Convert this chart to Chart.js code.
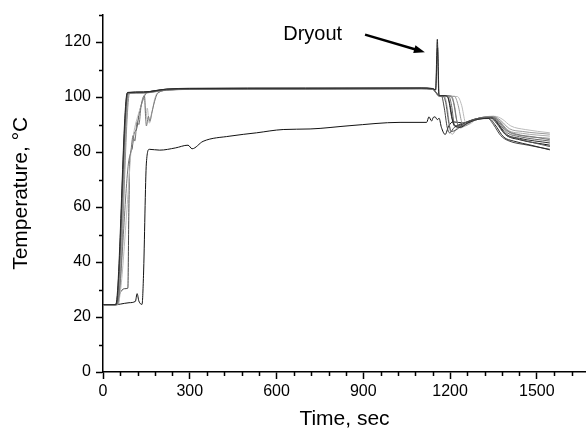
<!doctype html>
<html lang="en">
<head>
<meta charset="utf-8">
<title>Temperature vs time</title>
<script src="https://cdn.jsdelivr.net/npm/chart.js"></script>
<style>
  html, body { margin: 0; padding: 0; background: #fff; }
  #wrap { width: 586px; height: 434px; position: relative; }
</style>
</head>
<body>
<div id="wrap"><canvas id="chart"></canvas></div>
<script>
// ---- data: [time sec, temperature C] ----
const tc01 = [[0,24.5],[44,24.5],[84,101.6],[140,101.8],[220,102.9],[300,103.1],[700,103.2],[1100,103.3],[1140,103.1],[1150,102.6],[1156,121],[1161,101],[1166,100.5],[1185,100.5],[1195,99],[1205,93],[1215,89.5],[1235,89],[1260,90.5],[1300,92],[1335,92.2],[1355,90],[1385,85.5],[1420,84],[1480,82.5],[1545,80.8]]
const tc02 = [[0,24.5],[46,24.5],[86,101.5],[140,101.6],[220,102.7],[300,102.9],[700,103],[1100,103.1],[1140,102.9],[1152,101.6],[1162,100.5],[1175,100.4],[1185,98],[1195,91],[1205,87.5],[1220,88],[1250,90.5],[1300,92.3],[1340,92.5],[1360,90.5],[1390,86.5],[1430,85],[1545,82]]
const tc03 = [[0,24.5],[48,24.5],[88,76],[96,80],[104,86],[110,84],[118,91],[124,90],[132,97],[143,100.5],[150,89.5],[157,93],[162,91.2],[168,94],[182,99.7],[190,101.5],[230,102.6],[300,102.9],[700,103],[1100,103.1],[1140,102.9],[1152,101.5],[1162,100.4],[1200,100.4],[1212,98],[1222,92],[1232,89],[1260,90.5],[1310,92.6],[1345,92.8],[1365,91.5],[1395,88],[1430,86.5],[1490,85.5],[1545,84.5]]
const tc04 = [[0,24.5],[50,24.5],[90,101.4],[140,101.5],[220,102.5],[300,102.8],[700,102.9],[1100,103],[1140,102.8],[1152,101.4],[1162,100.3],[1215,100.3],[1228,97],[1240,91],[1252,89.5],[1280,91.5],[1320,92.8],[1350,93],[1375,91.5],[1405,88.5],[1450,87.5],[1545,86.5]]
const tc05 = [[0,24.5],[50,24.5],[90,70],[95,78],[102,84],[110,89],[120,93],[135,98],[143,100.8],[148,92],[153,96],[160,90.5],[168,93.5],[178,99],[188,101.5],[230,102.5],[300,102.8],[700,102.9],[1100,103],[1140,102.8],[1152,101.4],[1162,100.2],[1225,100.2],[1240,97],[1252,91],[1262,90],[1290,91.8],[1330,92.8],[1355,93],[1380,92],[1410,89.5],[1460,88.2],[1545,87]]
const tc06 = [[0,24.5],[45,24.5],[85,101.7],[140,101.9],[220,102.9],[300,103.2],[700,103.3],[1100,103.3],[1140,103.1],[1150,102.6],[1157,118],[1162,100.8],[1166,100.5],[1190,100.5],[1200,97],[1210,91],[1222,89.5],[1260,91],[1310,92.5],[1345,92.6],[1365,90.5],[1395,86.5],[1440,85],[1545,83.3]]
const tc07 = [[0,24.5],[42,24.5],[50,26],[58,28.5],[66,29.8],[74,30.3],[86,30.5],[89,55],[92,76],[100,81],[108,87],[115,88],[125,94],[135,98],[143,100.3],[150,101.5],[220,102.6],[300,102.9],[700,103],[1100,103.1],[1140,102.9],[1152,101.5],[1162,100.5],[1170,100.5],[1180,96],[1190,89],[1198,87],[1215,89],[1260,91],[1300,92.2],[1330,92.3],[1350,90],[1375,86],[1400,84.2],[1470,82.5],[1545,81]]
const tc08 = [[0,24.5],[52,24.5],[92,101.4],[140,101.5],[220,102.6],[300,102.9],[700,103],[1100,103.1],[1140,102.9],[1152,101.5],[1162,100.4],[1205,100.4],[1215,97],[1225,90.5],[1235,88.8],[1270,91],[1320,92.7],[1350,92.8],[1372,91],[1400,87.5],[1445,86],[1545,85]]
const tc09 = [[0,24.5],[48,24.5],[87,101.5],[140,101.6],[220,102.7],[300,103],[700,103.1],[1100,103.2],[1140,103],[1152,101.5],[1162,100.4],[1180,100.4],[1192,95],[1200,88],[1208,86.5],[1222,88.5],[1265,91],[1315,92.6],[1348,92.8],[1370,91.5],[1400,88],[1450,86.8],[1545,85.8]]
const tc10 = [[0,24.5],[47,24.5],[88,101.5],[140,101.7],[220,102.8],[300,103],[700,103.1],[1100,103.2],[1140,103],[1152,101.6],[1162,100.5],[1195,100.5],[1205,97],[1215,90],[1228,89.2],[1270,91.2],[1320,92.6],[1347,92.7],[1367,90.8],[1398,87],[1440,85.6],[1545,84]]
const tc11 = [[0,24.5],[42,24.5],[60,24.7],[90,25.2],[112,25.7],[118,28.5],[124,25.8],[135,24.6],[140,35],[150,76],[160,81],[196,80.7],[250,81.5],[294,82.5],[308,81.2],[346,83.9],[439,85.8],[531,87],[623,88.2],[716,88.4],[854,89.6],[1027,90.8],[1119,90.8],[1127,92.8],[1136,91.3],[1142,92.6],[1148,92.8],[1156,91.8],[1162,92.3],[1170,89],[1183,86.4],[1195,89.4],[1210,91],[1250,90.5],[1300,92],[1340,92.4],[1360,91],[1390,86.5],[1440,84.5],[1545,82.5]]

const seriesList = [tc01, tc02, tc03, tc04, tc05, tc06, tc07, tc08, tc09, tc10, tc11]
const seriesColors = ['#2a2a2a', '#555', '#777', '#999', '#bbb', '#333', '#444', '#888', '#aaa', '#666', '#111']

const xTicks = [0, 300, 600, 900, 1200, 1500]
const yTicks = [0, 20, 40, 60, 80, 100, 120]

// annotation: "Dryout" label and arrow pointing at the spike
const dryoutLabel = { text: 'Dryout', at: [623, 120.6] }
const arrowFrom = [906, 122.7]
const arrowTo = [1113, 116.3]

const FONT = 'Arial, "Liberation Sans", sans-serif'

const minorTicks = {
  id: 'minorTicks',
  afterDraw(chart) {
    const { ctx, scales: { x, y } } = chart
    ctx.save()
    ctx.strokeStyle = '#000'
    ctx.lineWidth = 1.5
    ctx.beginPath()
    for (let v = 60; v <= x.max; v += 60) {
      if (v % 300 === 0) continue
      const px = Math.round(x.getPixelForValue(v)) + 0.5
      ctx.moveTo(px, y.bottom)
      ctx.lineTo(px, y.bottom + 4)
    }
    for (let v = 10; v <= y.max; v += 20) {
      const py = Math.round(y.getPixelForValue(v)) + 0.5
      ctx.moveTo(x.left, py)
      ctx.lineTo(x.left - 4, py)
    }
    ctx.stroke()
    ctx.restore()
  }
}

const dryout = {
  id: 'dryout',
  afterDatasetsDraw(chart) {
    const { ctx, scales: { x, y } } = chart
    ctx.save()
    ctx.fillStyle = '#000'
    ctx.font = '20px ' + FONT
    ctx.textBaseline = 'alphabetic'
    ctx.textAlign = 'left'
    ctx.fillText(dryoutLabel.text, x.getPixelForValue(dryoutLabel.at[0]), y.getPixelForValue(dryoutLabel.at[1]))

    const x0 = x.getPixelForValue(arrowFrom[0]), y0 = y.getPixelForValue(arrowFrom[1])
    const x1 = x.getPixelForValue(arrowTo[0]), y1 = y.getPixelForValue(arrowTo[1])
    const ang = Math.atan2(y1 - y0, x1 - x0)
    const head = 11
    ctx.strokeStyle = '#000'
    ctx.lineWidth = 2.5
    ctx.beginPath()
    ctx.moveTo(x0, y0)
    ctx.lineTo(x1 - head * 0.8 * Math.cos(ang), y1 - head * 0.8 * Math.sin(ang))
    ctx.stroke()
    ctx.beginPath()
    ctx.moveTo(x1, y1)
    ctx.lineTo(x1 - head * Math.cos(ang) + 4 * Math.sin(ang), y1 - head * Math.sin(ang) - 4 * Math.cos(ang))
    ctx.lineTo(x1 - head * Math.cos(ang) - 4 * Math.sin(ang), y1 - head * Math.sin(ang) + 4 * Math.cos(ang))
    ctx.closePath()
    ctx.fill()
    ctx.restore()
  }
}

new Chart(document.getElementById('chart'), {
  type: 'line',
  data: {
    datasets: seriesList.map((pts, i) => ({
      label: 'TC' + (i + 1),
      data: pts.map(([t, T]) => ({ x: t, y: T })),
      borderColor: seriesColors[i],
      borderWidth: 1,
      pointRadius: 0,
      cubicInterpolationMode: 'monotone',
      fill: false
    }))
  },
  options: {
    responsive: true,
    maintainAspectRatio: false,
    animation: false,
    layout: { padding: { top: 14, right: 0, bottom: 0, left: 0 } },
    plugins: { legend: { display: false }, tooltip: { enabled: false } },
    scales: {
      x: {
        type: 'linear',
        min: 0,
        max: 1670,
        afterFit(s) { s.height = 62 },
        afterBuildTicks(s) { s.ticks = xTicks.map(v => ({ value: v })) },
        grid: { display: true, drawOnChartArea: false, drawTicks: true, tickLength: 7, tickWidth: 1.5, tickColor: '#000' },
        border: { display: true, color: '#000', width: 1.5 },
        ticks: { color: '#000', font: { size: 16, family: FONT }, padding: 3, maxRotation: 0, autoSkip: false, callback: v => String(v) },
        title: { display: true, text: 'Time, sec', color: '#000', font: { size: 21, family: FONT }, padding: { top: 0, bottom: 2 } }
      },
      y: {
        type: 'linear',
        min: 0,
        max: 130,
        afterFit(s) { s.width = 103 },
        afterBuildTicks(s) { s.ticks = yTicks.map(v => ({ value: v })) },
        grid: { display: true, drawOnChartArea: false, drawTicks: true, tickLength: 7, tickWidth: 1.5, tickColor: '#000' },
        border: { display: true, color: '#000', width: 1.5 },
        ticks: { color: '#000', font: { size: 16, family: FONT }, padding: 5, autoSkip: false, callback: v => String(v) },
        title: { display: true, text: 'Temperature, °C', color: '#000', font: { size: 21, family: FONT }, padding: { top: 9, bottom: 0 } }
      }
    }
  },
  plugins: [minorTicks, dryout]
})
</script>
</body>
</html>
